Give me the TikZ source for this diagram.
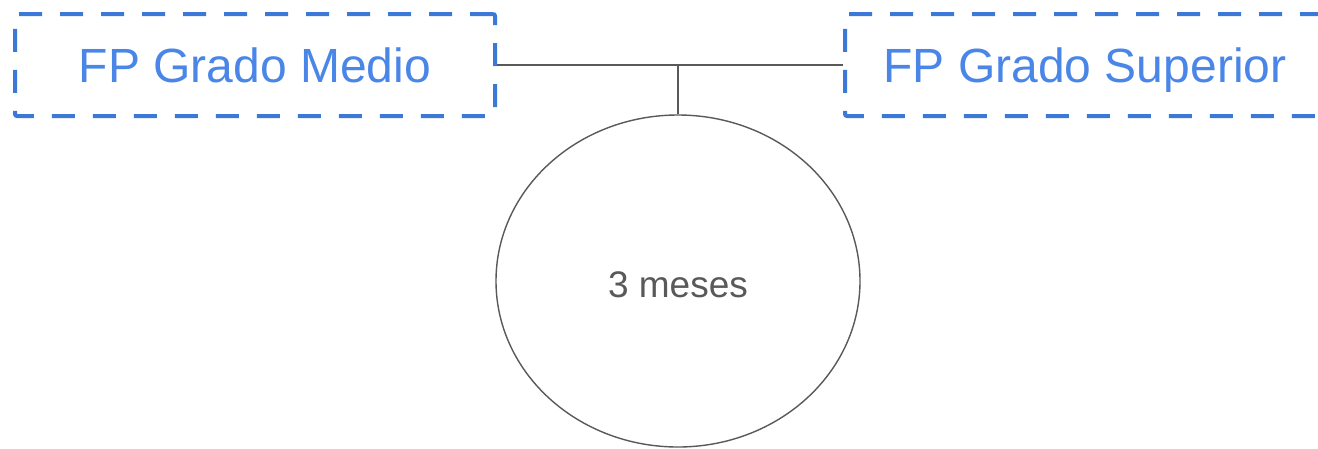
\documentclass[tikz,border=0pt]{standalone}
\usepackage{fontspec}
\setmainfont{Liberation Sans}
\usetikzlibrary{shapes.geometric}
\definecolor{boxblue}{HTML}{3C78D8}
\definecolor{txtblue}{HTML}{4A86E8}
\definecolor{lgray}{HTML}{595959}
\tikzset{
  fpbox/.style={draw=boxblue, line width=4pt, dash pattern=on 23pt off 18pt,
    rounded corners=2pt, minimum width=480pt, minimum height=102pt, inner sep=0pt,
    text=txtblue, font=\fontsize{48}{54}\selectfont, text height=35pt, text depth=1pt},
  conn/.style={draw=lgray, line width=1.6pt},
  oval/.style={ellipse, draw=lgray, line width=1.4pt, minimum width=364pt,
    minimum height=332pt, inner sep=0pt, text=lgray, font=\fontsize{37}{42}\selectfont,
    text height=32pt, text depth=0pt}
}
\begin{document}
\begin{tikzpicture}[x=1pt,y=-1pt]
\useasboundingbox[clip] (0,0) rectangle (1318,448);
\fill[white] (0,0) rectangle (1318,448);
\node[fpbox] (L) at (255,65) {FP Grado Medio};
\node[fpbox] (R) at (1085,65) {FP Grado Superior};
\node[oval] (E) at (678,281) {3 meses};
\coordinate (J) at (678,65);
\draw[conn] (L.east) -- (R.west);
\draw[conn] (J) -- (E.north);
\end{tikzpicture}
\end{document}
